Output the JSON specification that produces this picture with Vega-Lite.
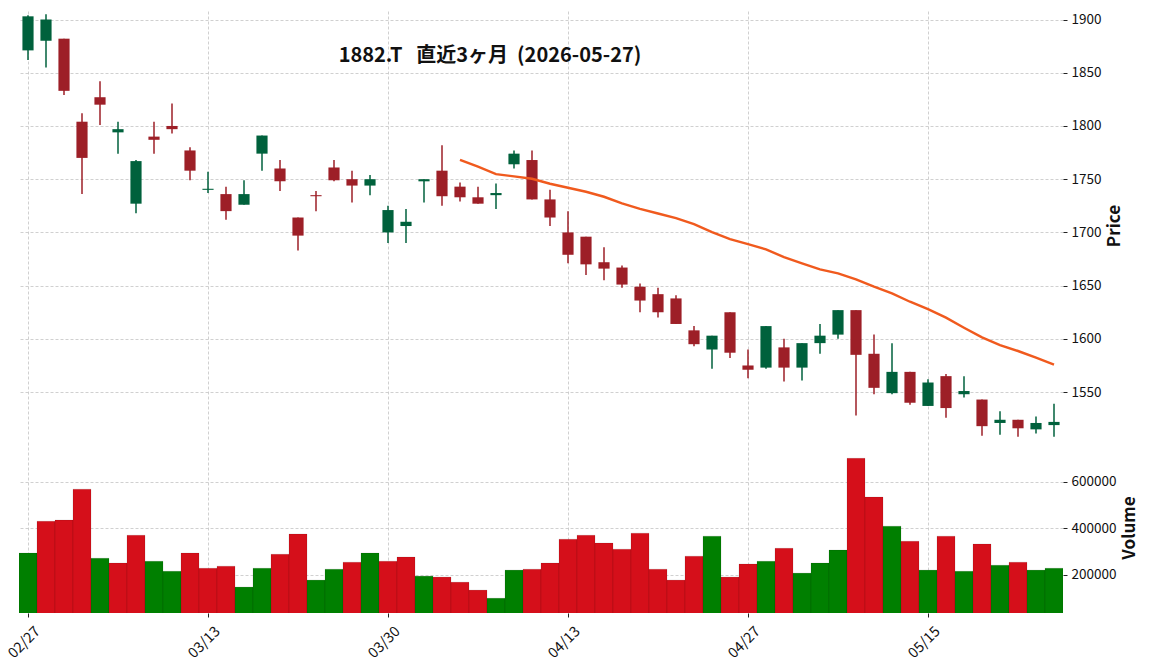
{
  "$schema": "https://vega.github.io/schema/vega-lite/v6.json",
  "background": "white",
  "padding": {"left": 5, "top": 11, "right": 5, "bottom": 5},
  "config": {
    "font": "Noto Sans CJK JP",
    "view": {"stroke": null},
    "axis": {
      "gridColor": "#c4c4c4", "gridDash": [3, 2], "gridWidth": 0.8,
      "domain": false, "tickColor": "#222222", "tickSize": 4, "tickWidth": 1,
      "labelFont": "Noto Sans CJK JP", "labelFontSize": 13.5, "labelColor": "#111111",
      "titleFont": "Noto Sans CJK JP", "titleFontSize": 17, "titleFontWeight": "bold", "titleColor": "#111111"
    }
  },
  "spacing": 2,
  "datasets": {
    "ohlc": [
      {"d": "02/27", "o": 1871, "h": 1904, "l": 1862, "c": 1903, "v": 292000, "vd": "up", "ma": null},
      {"d": "03/02", "o": 1880, "h": 1905, "l": 1855, "c": 1900, "v": 429000, "vd": "down", "ma": null},
      {"d": "03/03", "o": 1882, "h": 1882, "l": 1829, "c": 1833, "v": 434000, "vd": "down", "ma": null},
      {"d": "03/04", "o": 1804, "h": 1812, "l": 1736, "c": 1770, "v": 567000, "vd": "down", "ma": null},
      {"d": "03/05", "o": 1827, "h": 1842, "l": 1801, "c": 1820, "v": 270000, "vd": "up", "ma": null},
      {"d": "03/06", "o": 1794, "h": 1804, "l": 1774, "c": 1797, "v": 249000, "vd": "down", "ma": null},
      {"d": "03/09", "o": 1727, "h": 1768, "l": 1718, "c": 1767, "v": 369000, "vd": "down", "ma": null},
      {"d": "03/10", "o": 1790, "h": 1804, "l": 1774, "c": 1787, "v": 257000, "vd": "up", "ma": null},
      {"d": "03/11", "o": 1800, "h": 1821, "l": 1793, "c": 1797, "v": 214000, "vd": "up", "ma": null},
      {"d": "03/12", "o": 1777, "h": 1780, "l": 1749, "c": 1758, "v": 292000, "vd": "down", "ma": null},
      {"d": "03/13", "o": 1740, "h": 1757, "l": 1737, "c": 1741, "v": 227000, "vd": "down", "ma": null},
      {"d": "03/16", "o": 1736, "h": 1743, "l": 1712, "c": 1720, "v": 236000, "vd": "down", "ma": null},
      {"d": "03/17", "o": 1726, "h": 1749, "l": 1726, "c": 1736, "v": 146000, "vd": "up", "ma": null},
      {"d": "03/18", "o": 1774, "h": 1791, "l": 1758, "c": 1791, "v": 227000, "vd": "up", "ma": null},
      {"d": "03/19", "o": 1760, "h": 1768, "l": 1739, "c": 1748, "v": 287000, "vd": "down", "ma": null},
      {"d": "03/23", "o": 1714, "h": 1714, "l": 1683, "c": 1697, "v": 374000, "vd": "down", "ma": null},
      {"d": "03/24", "o": 1735, "h": 1739, "l": 1720, "c": 1734, "v": 176000, "vd": "up", "ma": null},
      {"d": "03/25", "o": 1761, "h": 1768, "l": 1748, "c": 1749, "v": 223000, "vd": "up", "ma": null},
      {"d": "03/26", "o": 1750, "h": 1758, "l": 1728, "c": 1744, "v": 253000, "vd": "down", "ma": null},
      {"d": "03/27", "o": 1744, "h": 1754, "l": 1735, "c": 1750, "v": 292000, "vd": "up", "ma": null},
      {"d": "03/30", "o": 1700, "h": 1725, "l": 1690, "c": 1721, "v": 257000, "vd": "down", "ma": null},
      {"d": "03/31", "o": 1706, "h": 1722, "l": 1690, "c": 1710, "v": 275000, "vd": "down", "ma": null},
      {"d": "04/01", "o": 1748, "h": 1750, "l": 1728, "c": 1750, "v": 193000, "vd": "up", "ma": null},
      {"d": "04/02", "o": 1758, "h": 1782, "l": 1725, "c": 1734, "v": 189000, "vd": "down", "ma": null},
      {"d": "04/03", "o": 1743, "h": 1747, "l": 1729, "c": 1733, "v": 167000, "vd": "down", "ma": 1768.2},
      {"d": "04/06", "o": 1733, "h": 1743, "l": 1727, "c": 1727, "v": 133000, "vd": "down", "ma": 1761.7},
      {"d": "04/07", "o": 1735, "h": 1746, "l": 1722, "c": 1737, "v": 98000, "vd": "up", "ma": 1754.8},
      {"d": "04/08", "o": 1764, "h": 1777, "l": 1760, "c": 1774, "v": 219000, "vd": "up", "ma": 1752.6},
      {"d": "04/09", "o": 1768, "h": 1777, "l": 1731, "c": 1731, "v": 223000, "vd": "down", "ma": 1750.4},
      {"d": "04/10", "o": 1731, "h": 1740, "l": 1706, "c": 1714, "v": 249000, "vd": "down", "ma": 1745.7},
      {"d": "04/13", "o": 1700, "h": 1720, "l": 1671, "c": 1679, "v": 352000, "vd": "down", "ma": 1742.0},
      {"d": "04/14", "o": 1696, "h": 1696, "l": 1660, "c": 1670, "v": 369000, "vd": "down", "ma": 1738.2},
      {"d": "04/15", "o": 1672, "h": 1686, "l": 1655, "c": 1666, "v": 335000, "vd": "down", "ma": 1733.5},
      {"d": "04/16", "o": 1667, "h": 1669, "l": 1648, "c": 1651, "v": 309000, "vd": "down", "ma": 1727.2},
      {"d": "04/17", "o": 1649, "h": 1652, "l": 1625, "c": 1636, "v": 378000, "vd": "down", "ma": 1722.2},
      {"d": "04/20", "o": 1642, "h": 1648, "l": 1620, "c": 1625, "v": 223000, "vd": "down", "ma": 1717.8},
      {"d": "04/21", "o": 1638, "h": 1641, "l": 1614, "c": 1614, "v": 176000, "vd": "down", "ma": 1713.5},
      {"d": "04/22", "o": 1608, "h": 1612, "l": 1593, "c": 1595, "v": 279000, "vd": "down", "ma": 1707.8},
      {"d": "04/23", "o": 1590, "h": 1603, "l": 1572, "c": 1603, "v": 365000, "vd": "up", "ma": 1700.3},
      {"d": "04/24", "o": 1625, "h": 1625, "l": 1582, "c": 1587, "v": 189000, "vd": "down", "ma": 1693.7},
      {"d": "04/27", "o": 1575, "h": 1590, "l": 1563, "c": 1571, "v": 245000, "vd": "down", "ma": 1689.0},
      {"d": "04/28", "o": 1573, "h": 1612, "l": 1572, "c": 1612, "v": 257000, "vd": "up", "ma": 1684.0},
      {"d": "04/30", "o": 1592, "h": 1600, "l": 1560, "c": 1573, "v": 313000, "vd": "down", "ma": 1676.8},
      {"d": "05/01", "o": 1573, "h": 1596, "l": 1561, "c": 1596, "v": 206000, "vd": "up", "ma": 1670.9},
      {"d": "05/07", "o": 1596, "h": 1614, "l": 1586, "c": 1603, "v": 249000, "vd": "up", "ma": 1665.3},
      {"d": "05/08", "o": 1604, "h": 1627, "l": 1600, "c": 1627, "v": 305000, "vd": "up", "ma": 1661.5},
      {"d": "05/11", "o": 1627, "h": 1627, "l": 1528, "c": 1585, "v": 700000, "vd": "down", "ma": 1655.9},
      {"d": "05/12", "o": 1586, "h": 1604, "l": 1548, "c": 1554, "v": 533000, "vd": "down", "ma": 1649.0},
      {"d": "05/13", "o": 1549, "h": 1596, "l": 1548, "c": 1569, "v": 408000, "vd": "up", "ma": 1642.7},
      {"d": "05/14", "o": 1569, "h": 1569, "l": 1538, "c": 1540, "v": 343000, "vd": "down", "ma": 1634.9},
      {"d": "05/15", "o": 1537, "h": 1562, "l": 1537, "c": 1559, "v": 219000, "vd": "up", "ma": 1628.0},
      {"d": "05/18", "o": 1565, "h": 1567, "l": 1526, "c": 1535, "v": 365000, "vd": "down", "ma": 1619.9},
      {"d": "05/19", "o": 1548, "h": 1565, "l": 1545, "c": 1551, "v": 214000, "vd": "up", "ma": 1610.5},
      {"d": "05/20", "o": 1543, "h": 1543, "l": 1509, "c": 1518, "v": 331000, "vd": "down", "ma": 1601.4},
      {"d": "05/21", "o": 1521, "h": 1532, "l": 1510, "c": 1524, "v": 240000, "vd": "up", "ma": 1594.2},
      {"d": "05/22", "o": 1524, "h": 1524, "l": 1508, "c": 1516, "v": 253000, "vd": "down", "ma": 1588.6},
      {"d": "05/25", "o": 1515, "h": 1527, "l": 1511, "c": 1521, "v": 219000, "vd": "up", "ma": 1582.3},
      {"d": "05/26", "o": 1519, "h": 1539, "l": 1508, "c": 1522, "v": 227000, "vd": "up", "ma": 1575.8}
    ]
  },
  "vconcat": [
    {
      "width": 1044,
      "height": 429,
      "data": {"name": "ohlc"},
      "title": {
        "text": "1882.T\u00a0\u00a0\u00a0直近3ヶ月\u00a0\u00a0(2026-05-27)",
        "frame": "group", "anchor": "middle", "dx": -51, "offset": -71,
        "baseline": "alphabetic", "fontSize": 20, "fontWeight": "bold",
        "font": "Noto Sans CJK JP", "color": "#111111"
      },
      "encoding": {
        "x": {
          "field": "d", "type": "ordinal", "sort": null,
          "scale": {"paddingInner": 0, "paddingOuter": 0},
          "axis": {
            "values": ["02/27", "03/13", "03/30", "04/13", "04/27", "05/15"],
            "labels": false, "ticks": false, "grid": true, "bandPosition": 0.5, "title": null
          }
        }
      },
      "layer": [
        {
          "mark": {"type": "rule", "strokeWidth": 1.5},
          "encoding": {
            "y": {
              "field": "l", "type": "quantitative",
              "scale": {"domain": [1505, 1908], "zero": false, "nice": false},
              "axis": {"orient": "right", "values": [1550, 1600, 1650, 1700, 1750, 1800, 1850, 1900], "format": "d", "title": "Price", "titleAngle": -90, "titleBaseline": "top", "titlePadding": 6, "labelPadding": 4, "grid": true}
            },
            "y2": {"field": "h"},
            "color": {"condition": {"test": "datum.c >= datum.o", "value": "#00613c"}, "value": "#9d1f27"}
          }
        },
        {
          "mark": {"type": "bar", "width": {"band": 0.62}},
          "encoding": {
            "y": {
              "field": "o", "type": "quantitative",
              "scale": {"domain": [1505, 1908], "zero": false, "nice": false},
              "axis": {"orient": "right", "values": [1550, 1600, 1650, 1700, 1750, 1800, 1850, 1900], "format": "d", "title": "Price", "titleAngle": -90, "titleBaseline": "top", "titlePadding": 6, "labelPadding": 4, "grid": true}
            },
            "y2": {"field": "c"},
            "color": {"condition": {"test": "datum.c >= datum.o", "value": "#00613c"}, "value": "#9d1f27"}
          }
        },
        {
          "mark": {"type": "line", "color": "#f05a1e", "strokeWidth": 2.4},
          "encoding": {
            "y": {
              "field": "ma", "type": "quantitative",
              "scale": {"domain": [1505, 1908], "zero": false, "nice": false},
              "axis": {"orient": "right", "values": [1550, 1600, 1650, 1700, 1750, 1800, 1850, 1900], "format": "d", "title": "Price", "titleAngle": -90, "titleBaseline": "top", "titlePadding": 6, "labelPadding": 4, "grid": true}
            }
          }
        }
      ]
    },
    {
      "width": 1044,
      "height": 171,
      "data": {"name": "ohlc"},
      "mark": {"type": "bar", "clip": true, "stroke": "#000000", "strokeOpacity": 0.15, "strokeWidth": 0.7},
      "encoding": {
        "x": {
          "field": "d", "type": "ordinal", "sort": null,
          "scale": {"paddingInner": 0, "paddingOuter": 0},
          "axis": {
            "values": ["02/27", "03/13", "03/30", "04/13", "04/27", "05/15"],
            "labelAngle": -45, "labelAlign": "right", "labelBaseline": "middle", "labelFontSize": 14.5,
            "labelOffset": 10, "labelPadding": 12, "grid": true, "bandPosition": 0.5, "title": null
          }
        },
        "y": {
          "field": "v", "type": "quantitative",
          "scale": {"domain": [34400, 770000], "zero": false, "nice": false},
          "axis": {"orient": "right", "values": [200000, 400000, 600000], "format": "d", "title": "Volume", "titleAngle": -90, "titleBaseline": "top", "titlePadding": 6, "labelPadding": 4, "grid": true}
        },
        "color": {"field": "vd", "type": "nominal", "scale": {"domain": ["up", "down"], "range": ["#007f00", "#d50f1a"]}, "legend": null}
      }
    }
  ]
}
